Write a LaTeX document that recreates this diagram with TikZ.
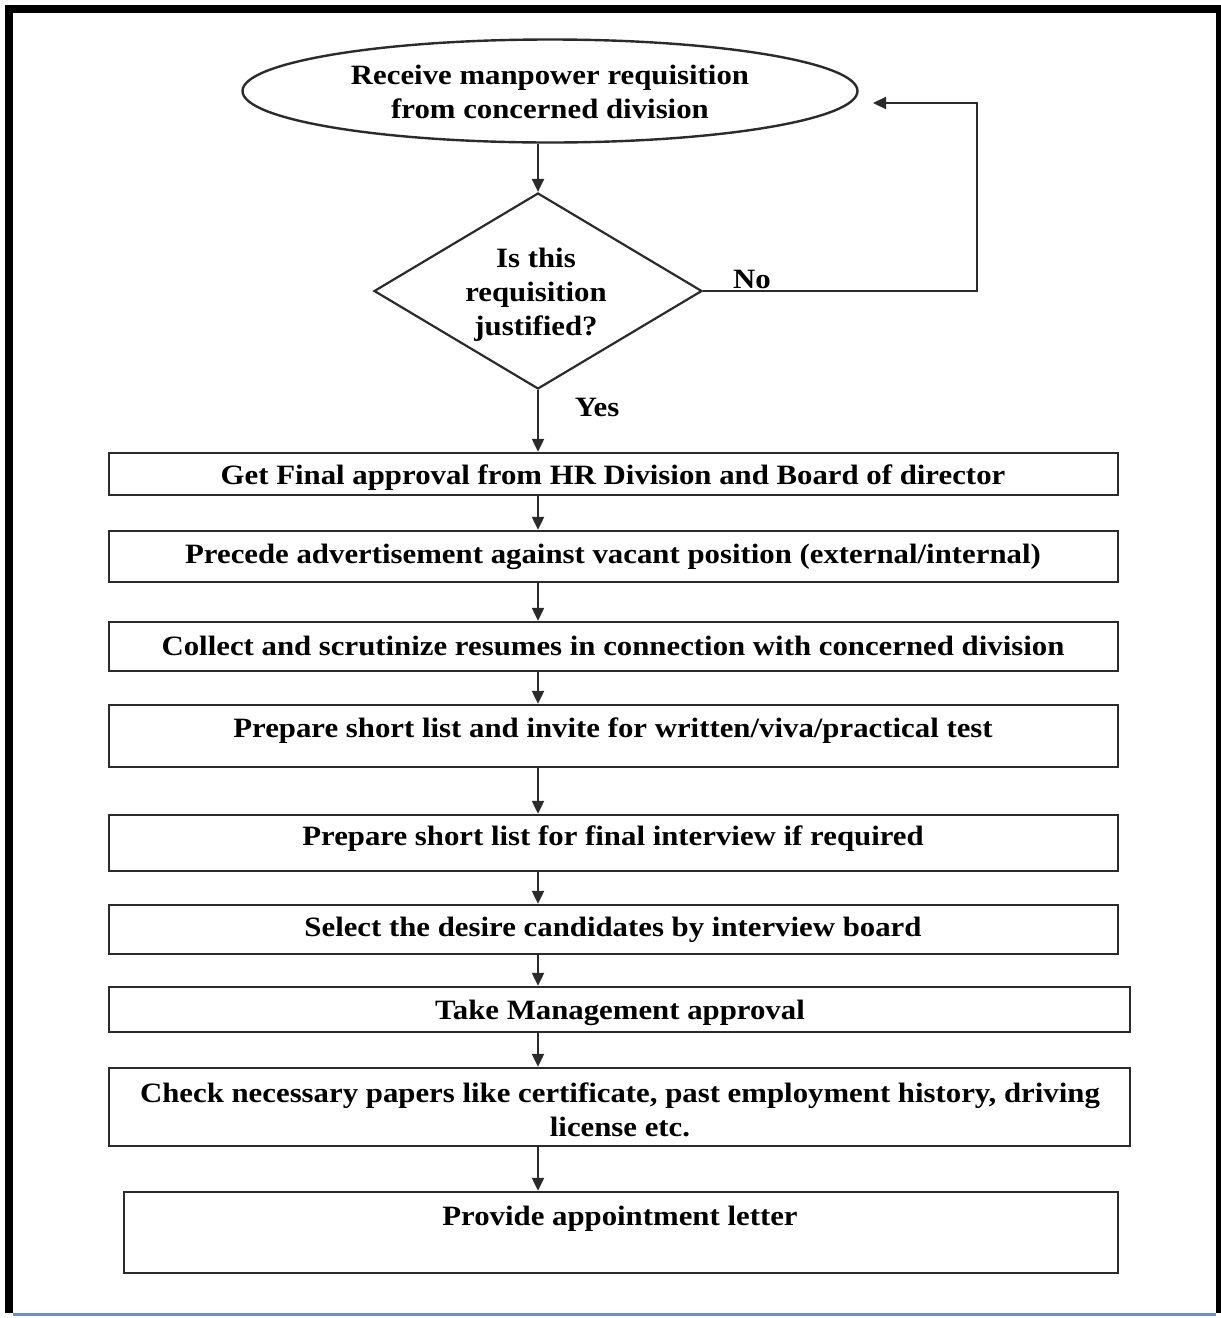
\documentclass[tikz,border=0pt]{standalone}
\usepackage{fontspec}
\setmainfont{Liberation Serif}[FakeStretch=1.1]
\usetikzlibrary{arrows.meta,shapes.geometric}

\definecolor{inkline}{HTML}{2B2B2B}
\definecolor{baseblue}{HTML}{6A8FC0}

\tikzset{
  txt/.style={font=\bfseries\fontsize{28}{34}\selectfont, align=center, inner sep=0pt, text=black},
  box/.style={draw=inkline, line width=2.4pt, rectangle, inner sep=0pt},
  flow/.style={draw=inkline, line width=2.2pt, -{Triangle[length=13pt,width=12pt]}},
}

\begin{document}
\begin{tikzpicture}[x=1pt,y=-1pt]
  % page and frame
  \useasboundingbox (0,0) rectangle (1221,1318);
  \fill[white] (0,0) rectangle (1221,1318);
  \fill[black] (5,5) rectangle (1221,13);
  \fill[black] (5,5) rectangle (13,1313);
  \fill[black] (1216,5) rectangle (1221,1313);
  \draw[baseblue, line width=3pt] (13,1314.5) -- (1216,1314.5);

  % vertical spine of the main flow
  \coordinate (spine) at (538,0);

  % start and decision
  \node[draw=inkline, line width=2.4pt, ellipse, minimum width=615pt, minimum height=103pt, inner sep=0pt]
    (start) at (550,91) {};
  \node[txt] (starttxt) at (550,92) {Receive manpower requisition\\from concerned division};

  \node[draw=inkline, line width=2.2pt, diamond, minimum width=328pt, minimum height=196pt, inner sep=0pt]
    (dec) at (538,291) {};
  \node[txt] (dectxt) at (536,295) {Is this\\requisition\\justified?};

  \node[txt] (no) at (752,279) {No};
  \node[txt] (yes) at (597,407) {Yes};

  % process steps
  \node[box, minimum width=1009pt, minimum height=42pt] (b1) at (613.5,474) {};
  \node[txt] (t1) at (613,478) {Get Final approval from HR Division and Board of director};

  \node[box, minimum width=1009pt, minimum height=51pt] (b2) at (613.5,556.5) {};
  \node[txt] (t2) at (613,557) {Precede advertisement against vacant position (external/internal)};

  \node[box, minimum width=1009pt, minimum height=49pt] (b3) at (613.5,646.5) {};
  \node[txt] (t3) at (613,646) {Collect and scrutinize resumes in connection with concerned division};

  \node[box, minimum width=1009pt, minimum height=62pt] (b4) at (613.5,736) {};
  \node[txt] (t4) at (613,731) {Prepare short list and invite for written/viva/practical test};

  \node[box, minimum width=1009pt, minimum height=56pt] (b5) at (613.5,843) {};
  \node[txt] (t5) at (613,839) {Prepare short list for final interview if required};

  \node[box, minimum width=1009pt, minimum height=49pt] (b6) at (613.5,929.5) {};
  \node[txt] (t6) at (613,930) {Select the desire candidates by interview board};

  \node[box, minimum width=1021pt, minimum height=45pt] (b7) at (619.5,1009.5) {};
  \node[txt] (t7) at (620,1013) {Take Management approval};

  \node[box, minimum width=1021pt, minimum height=78pt] (b8) at (619.5,1107) {};
  \node[txt] (t8) at (620,1110) {Check necessary papers like certificate, past employment history, driving\\license etc.};

  \node[box, minimum width=994pt, minimum height=81pt] (b9) at (621,1232.5) {};
  \node[txt] (t9) at (620,1219) {Provide appointment letter};

  % connectors
  \draw[flow] (start.south -| spine) -- (dec.north);
  \draw[flow] (dec.south) -- (b1.north -| spine);
  \coordinate (loopc) at (977,103);
  \coordinate (ret) at (873,103);
  \draw[flow] (dec.east) -| (loopc) -- (ret);
  \draw[flow] (b1.south -| spine) -- (b2.north -| spine);
  \draw[flow] (b2.south -| spine) -- (b3.north -| spine);
  \draw[flow] (b3.south -| spine) -- (b4.north -| spine);
  \draw[flow] (b4.south -| spine) -- (b5.north -| spine);
  \draw[flow] (b5.south -| spine) -- (b6.north -| spine);
  \draw[flow] (b6.south -| spine) -- (b7.north -| spine);
  \draw[flow] (b7.south -| spine) -- (b8.north -| spine);
  \draw[flow] (b8.south -| spine) -- (b9.north -| spine);
\end{tikzpicture}
\end{document}
